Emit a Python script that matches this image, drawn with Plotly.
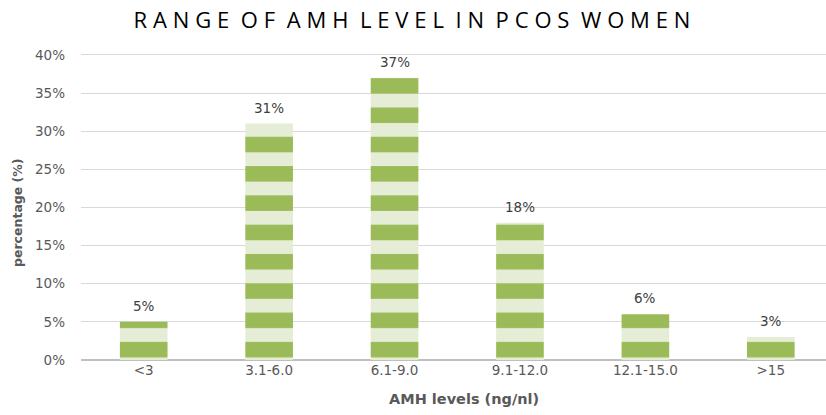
import plotly.graph_objects as go

categories = ["<3", "3.1-6.0", "6.1-9.0", "9.1-12.0", "12.1-15.0", ">15"]
values = [0.05, 0.31, 0.37, 0.18, 0.06, 0.03]
labels = ["5%", "31%", "37%", "18%", "6%", "3%"]
title_text = "RANGE OF AMH LEVEL IN PCOS WOMEN"

GREEN = "#9BBB59"
LIGHT = "#E5EDD6"
GRAY = "#595959"
FONT = "DejaVu Sans"
TFONT = "Open Sans"

# spread title letters (letter-spaced look)
gap = "\u2009\u200a"
spaced_title = (" " + gap).join(gap.join(w) for w in title_text.split(" "))

fig = go.Figure()
fig.add_trace(go.Bar(
    x=list(range(len(categories))),
    y=values,
    width=0.38,
    marker=dict(
        color=LIGHT,
        line=dict(width=0),
        pattern=dict(shape="-", size=29.3, solidity=0.53,
                     fgcolor=GREEN, bgcolor=LIGHT, fillmode="replace"),
    ),
    hoverinfo="skip",
))

for i, (v, t) in enumerate(zip(values, labels)):
    fig.add_annotation(x=i, y=v, text=t, showarrow=False, yshift=16,
                       font=dict(family=FONT, size=13.5, color="#404040"))

EXTRA = 12.95
PLOT_L, PLOT_T, PLOT_B = 81, 55 - EXTRA, 55
plot_w = 826 - PLOT_L
plot_h = 415 - PLOT_T - PLOT_B
fig.add_annotation(xref="paper", yref="paper", x=(464 - PLOT_L) / plot_w,
                   y=-(399 - 360) / plot_h, yanchor="middle",
                   text="<b>AMH levels (ng/nl)</b>", showarrow=False,
                   font=dict(family=FONT, size=14.5, color=GRAY))
fig.add_annotation(xref="paper", yref="paper", x=-(PLOT_L - 18) / plot_w, xanchor="center",
                   y=(360 - 212) / plot_h, yanchor="middle", textangle=-90,
                   text="<b>percentage (%)</b>", showarrow=False,
                   font=dict(family=FONT, size=12.5, color=GRAY))

ymax = 0.4 + EXTRA / 762.5

fig.update_layout(
    width=826, height=415,
    margin=dict(l=PLOT_L, r=0, t=PLOT_T, b=PLOT_B, autoexpand=False),
    paper_bgcolor="white", plot_bgcolor="white",
    showlegend=False,
    title=dict(text=spaced_title, x=412 / 826, xanchor="center",
               y=1 - 20.5 / 415, yanchor="middle", xref="container", yref="container",
               font=dict(family=TFONT, size=22, color="#000000")),
    xaxis=dict(
        tickmode="array", tickvals=list(range(len(categories))), ticktext=categories,
        range=[-0.5, 5.44], showgrid=False, zeroline=False, showline=False,
        ticks="", automargin=False, tickfont=dict(family=FONT, size=13.5, color=GRAY),
    ),
    yaxis=dict(
        range=[0, ymax], tickvals=[0, 0.05, 0.1, 0.15, 0.2, 0.25, 0.3, 0.35, 0.4],
        tickformat=".0%", showgrid=True, gridcolor="#D9D9D9", gridwidth=1,
        zeroline=True, zerolinecolor="#BFBFBF", zerolinewidth=2,
        showline=False, ticks="", ticklabelstandoff=15, automargin=False,
        tickfont=dict(family=FONT, size=13.5, color=GRAY),
    ),
)

fig.write_html("out.html", config={"displayModeBar": False},
               post_script="document.body.style.margin='0';")
